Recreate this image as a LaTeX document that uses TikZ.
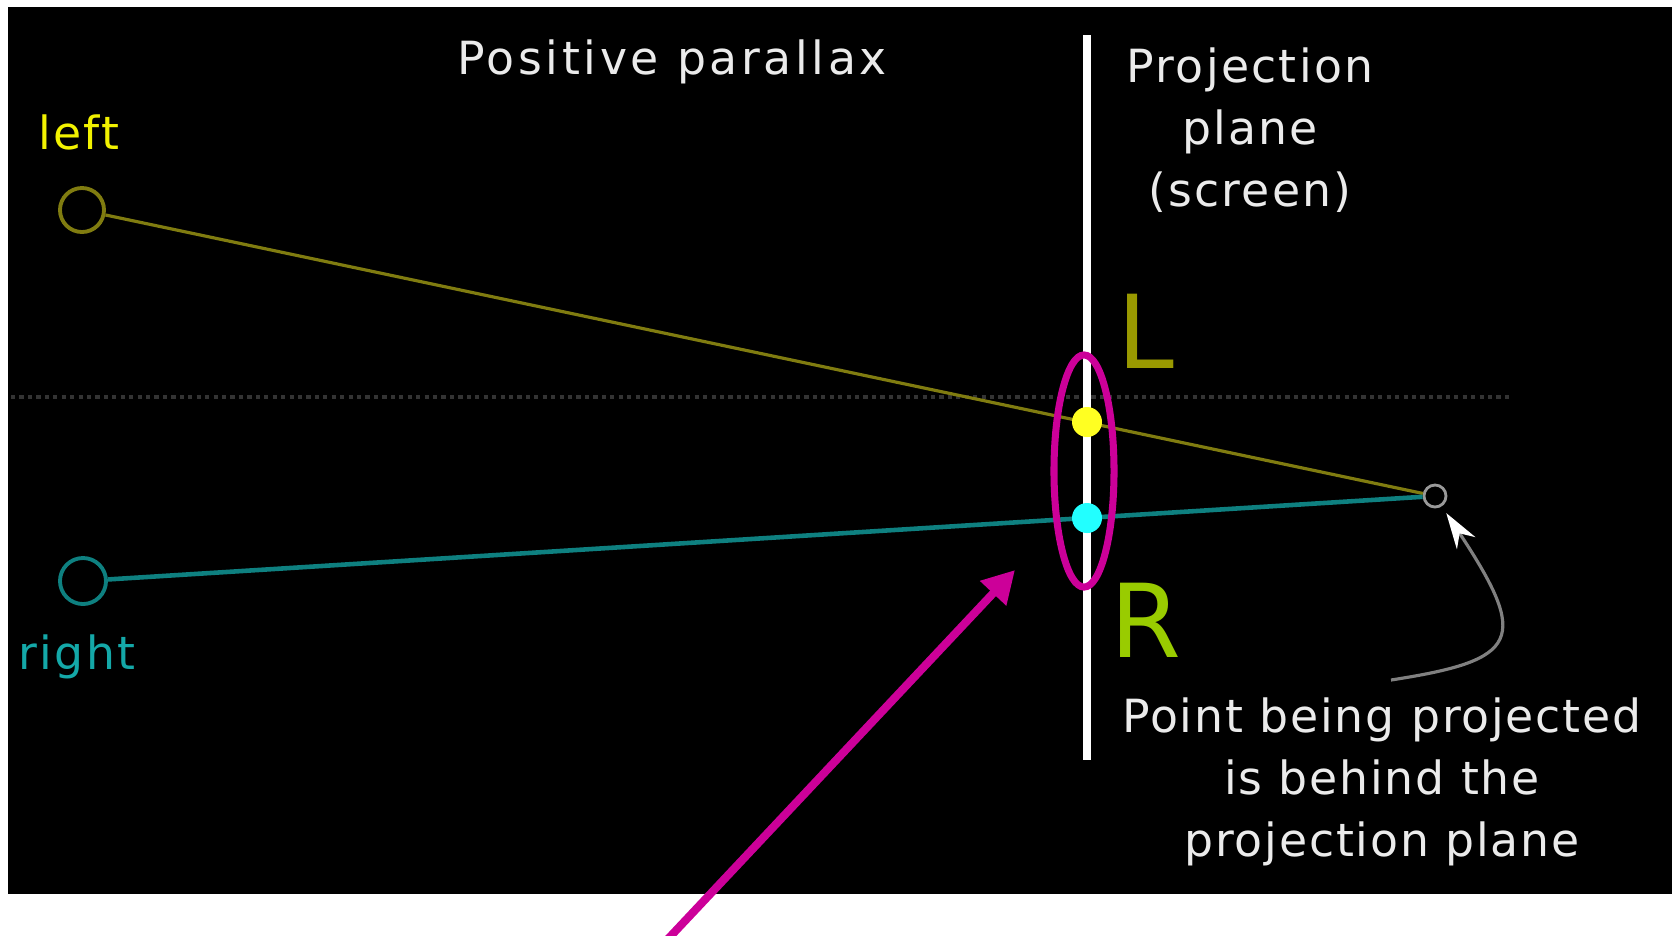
\documentclass[tikz,border=0pt]{standalone}
\usepackage{fontspec}
\setmainfont{DejaVu Sans}[LetterSpace=5]
\newfontfamily\lrfont{DejaVu Sans}
\usetikzlibrary{arrows.meta,positioning,shapes.geometric,calc}
\definecolor{olive}{HTML}{807C10}
\definecolor{yel}{HTML}{F2F200}
\definecolor{teal}{HTML}{0E8080}
\definecolor{cyn}{HTML}{14A8A8}
\definecolor{mag}{HTML}{CC0099}
\definecolor{dotg}{HTML}{333333}
\definecolor{ydot}{HTML}{FFFF22}
\definecolor{cdot}{HTML}{22FFFF}
\definecolor{lcol}{HTML}{999900}
\definecolor{rcol}{HTML}{99CC00}

\begin{document}
\begin{tikzpicture}[x=0.01cm, y=-0.01cm, >=Latex,
  lbl/.style={font=\fontsize{13}{17.6}\selectfont, text=white!92!black, inner sep=0pt, align=center},
  eye/.style={circle, draw, line width=1.1pt, minimum size=0.44cm, inner sep=0pt},
  dot/.style={circle, fill, inner sep=0pt, minimum size=0.3cm},
  big/.style={font=\lrfont\fontsize{29}{30}\selectfont, inner sep=0pt}]
\useasboundingbox (0,0) rectangle (1672,935);
\fill[black] (8,7) rectangle (1672,894);
% screen and horizon
\draw[dotg, line width=0.9pt, dash pattern=on 1.2pt off 1.2pt] (11,397) -- (1509,397);
\draw[white, line width=2.2pt] (1087,35) -- (1087,760);
% texts
\node[lbl, font=\addfontfeature{LetterSpace=8}\fontsize{13}{17.6}\selectfont] (ttl) at (672,62) {Positive parallax};
\node[lbl, text=yel] (lt) at (79,132) {left};
\node[lbl, text=cyn] (rt) at (77,657) {right};
\node[lbl] (scr) at (1250,130) {Projection\\plane\\(screen)};
\node[lbl, font=\addfontfeature{LetterSpace=4}\fontsize{13}{17.6}\selectfont] (cap) at (1382,782) {Point being projected\\is behind the\\projection plane};
\node[big, text=lcol] (L) at (1146,331) {L};
\node[big, text=rcol] (R) at (1146,620) {R};
% eyes and projected point
\node[eye, draw=olive] (le) at (82,210) {};
\node[eye, draw=teal, minimum size=0.46cm] (re) at (83,581) {};
\node[circle, draw=gray!80, line width=0.8pt, minimum size=0.22cm, inner sep=0pt] (pt) at (1435,496) {};
\draw[olive, line width=0.9pt] (le) -- (pt);
\draw[teal, line width=1.3pt] (re) -- (pt);
\node[dot, fill=ydot] (ld) at (1087,422) {};
\node[dot, fill=cdot] (rd) at (1087,518) {};
\node[ellipse, draw=mag, line width=2pt, minimum width=0.6cm, minimum height=2.32cm, inner sep=0pt] (hl) at (1084,471) {};
% pointers
\coordinate (cs) at (1391,680);
\draw[gray, line width=0.9pt, shorten >=0.08cm, -{Stealth[color=white, length=0.36cm, width=0.22cm]}] (cs) .. controls (1520,660) and (1530,640) .. (pt);
\coordinate (tail) at (667,940);
\coordinate (tip) at (1015,570);
\draw[mag, line width=2.3pt, -{Triangle[length=0.32cm, width=0.34cm]}] (tail) -- (tip);
\end{tikzpicture}
\end{document}
